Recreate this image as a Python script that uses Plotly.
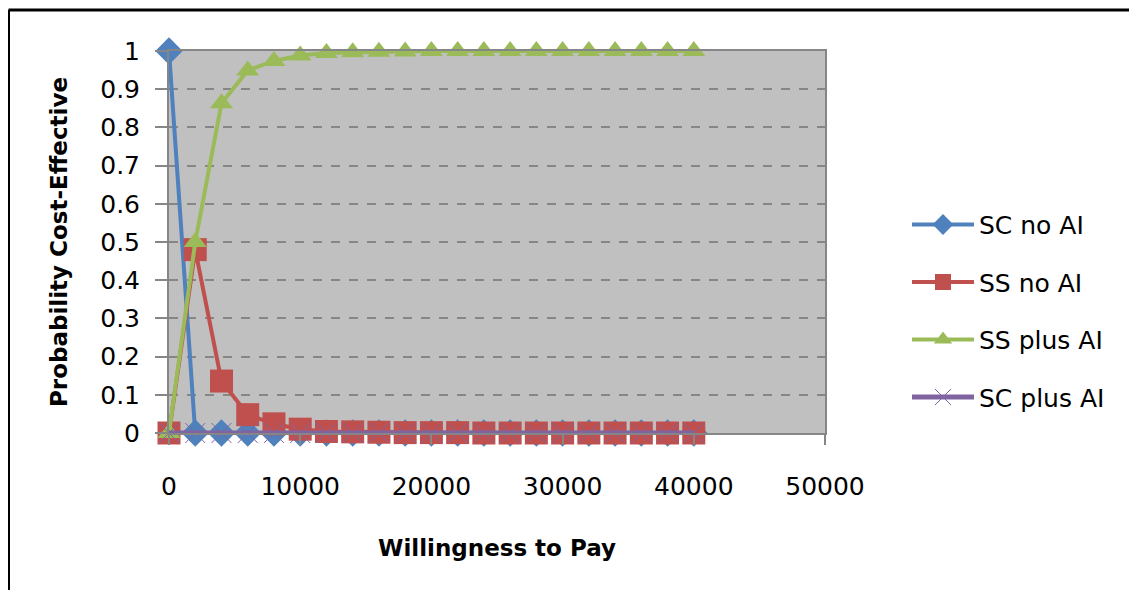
import plotly.graph_objects as go

wtp = [0, 2000, 4000, 6000, 8000, 10000, 12000, 14000, 16000, 18000, 20000,
       22000, 24000, 26000, 28000, 30000, 32000, 34000, 36000, 38000, 40000]

sc_no_ai = [1, 0, 0, 0, 0, 0, 0, 0, 0, 0, 0,
            0, 0, 0, 0, 0, 0, 0, 0, 0, 0]
ss_no_ai = [0, 0.48, 0.136, 0.048, 0.024, 0.01, 0.004, 0.003, 0.002, 0.001, 0.001,
            0.001, 0, 0, 0, 0, 0, 0, 0, 0, 0]
ss_plus_ai = [0, 0.5, 0.863, 0.949, 0.974, 0.988, 0.995, 0.997, 0.998, 0.999, 1,
              1, 1, 1, 1, 1, 1, 1, 1, 1, 1]
sc_plus_ai = [0, 0, 0, 0, 0, 0, 0, 0, 0, 0, 0,
              0, 0, 0, 0, 0, 0, 0, 0, 0, 0]

font = "DejaVu Sans, sans-serif"

fig = go.Figure()

series = [
    ("SC no AI", sc_no_ai, "#4F81BD", "diamond", 21, 4),
    ("SS no AI", ss_no_ai, "#C0504D", "square", 23, 4),
    ("SS plus AI", ss_plus_ai, "#9BBB59", "triangle-up", 20, 4),
    ("SC plus AI", sc_plus_ai, "#8064A2", "x-thin-open", 20, 5),
]

for name, vals, color, symbol, size, lw in series:
    marker = dict(symbol=symbol, size=size, color=color)
    if symbol == "x-thin-open":
        marker["line"] = dict(color=color, width=1)
    fig.add_trace(go.Scatter(
        x=wtp, y=vals, name=name, mode="lines+markers",
        line=dict(color=color, width=lw),
        marker=marker,
        cliponaxis=False,
        legendgroup=name,
    ))

# page has an 8px body margin, so the figure is sized to fit inside it
fig.update_layout(
    width=1129, height=582,
    margin=dict(l=161, r=312, t=43, b=157),
    paper_bgcolor="white",
    plot_bgcolor="#C0C0C0",
    font=dict(family=font, size=25, color="black"),
    showlegend=True,
    legend=dict(x=1.125, y=0.32, xanchor="left", yanchor="middle",
                tracegroupgap=22, itemwidth=62,
                font=dict(size=25), bgcolor="rgba(0,0,0,0)"),
)

fig.update_xaxes(
    range=[0, 50000], dtick=10000, tick0=0, tickformat="d",
    showline=True, linecolor="#868686", linewidth=2, mirror=True,
    ticks="outside", ticklen=10, tickcolor="#868686", tickwidth=2,
    ticklabelstandoff=20,
    showgrid=False, zeroline=False,
    title=dict(text="<b>Willingness to Pay</b>", standoff=40,
               font=dict(size=23)),
)

fig.update_yaxes(
    range=[0, 1], dtick=0.1, tick0=0,
    showline=True, linecolor="#868686", linewidth=2, mirror=True,
    ticks="outside", ticklen=12, tickcolor="#868686", tickwidth=2,
    ticklabelstandoff=10,
    showgrid=True, gridcolor="#868686", gridwidth=2, griddash="dash",
    zeroline=False,
    title=dict(text="<b>Probability Cost-Effective</b>", standoff=26,
               font=dict(size=23)),
)

# outer border of the chart (top and left edges visible)
top_y = (425 - 2) / 382
left_x = (0.5 - 161) / 656
fig.add_shape(type="line", xref="paper", yref="paper",
              x0=left_x, x1=(1140 - 161) / 656, y0=top_y, y1=top_y,
              line=dict(color="black", width=3))
fig.add_shape(type="line", xref="paper", yref="paper",
              x0=left_x, x1=left_x, y0=top_y, y1=(425 - 600) / 382,
              line=dict(color="black", width=3))

fig.write_html("out.html")
